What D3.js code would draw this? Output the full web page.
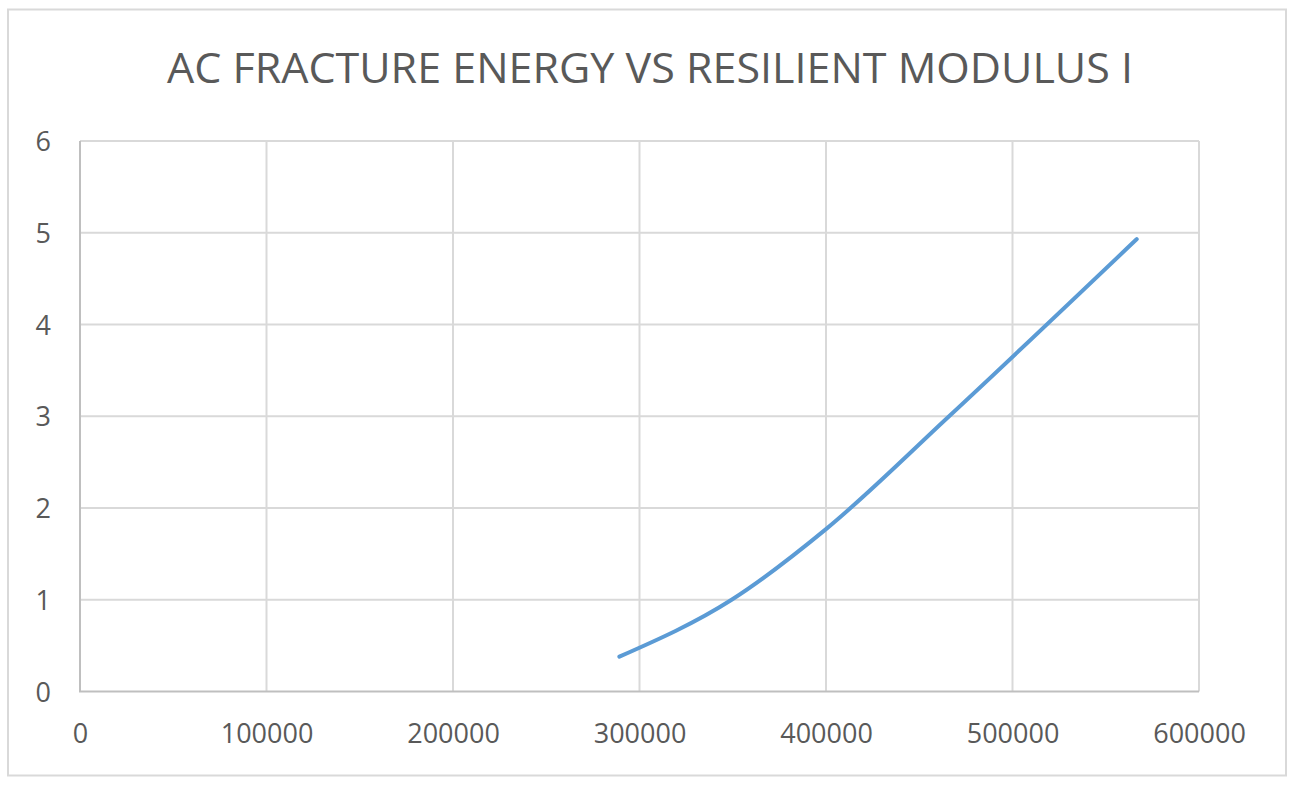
<!DOCTYPE html>
<html>
<head>
<meta charset="utf-8">
<script src="https://cdn.jsdelivr.net/npm/d3@7"></script>
<style>
  html, body { margin: 0; padding: 0; background: #fff; }
  svg { display: block; }
</style>
</head>
<body>
<svg id="chart" width="1301" height="792"></svg>
<script>
const title = "AC FRACTURE ENERGY VS RESILIENT MODULUS I";
const modulus = [289200, 349400, 400000, 466000, 566600];
const energy  = [0.38, 1.00, 1.77, 3.00, 4.93];
const xTicks = [0, 100000, 200000, 300000, 400000, 500000, 600000];
const yTicks = [0, 1, 2, 3, 4, 5, 6];

const svg = d3.select("#chart");
const W = 1301, H = 792;
const plot = { left: 80, right: 1199, top: 141, bottom: 691.5 };

svg.append("rect").attr("x", 0).attr("y", 0).attr("width", W).attr("height", H).attr("fill", "#fff");
svg.append("rect")
  .attr("x", 8).attr("y", 9.5).attr("width", 1278).attr("height", 766)
  .attr("fill", "#fff").attr("stroke", "#d9d9d9").attr("stroke-width", 2);

const x = d3.scaleLinear().domain([0, 600000]).range([plot.left, plot.right]);
const y = d3.scaleLinear().domain([0, 6]).range([plot.bottom, plot.top]);

// gridlines
const grid = svg.append("g");
grid.selectAll("line.h").data(yTicks.filter(d => d > 0)).join("line")
  .attr("x1", plot.left).attr("x2", plot.right)
  .attr("y1", d => y(d)).attr("y2", d => y(d))
  .attr("stroke", "#d9d9d9").attr("stroke-width", 2);
grid.selectAll("line.v").data(xTicks.filter(d => d > 0)).join("line")
  .attr("x1", d => x(d)).attr("x2", d => x(d))
  .attr("y1", plot.top).attr("y2", plot.bottom)
  .attr("stroke", "#d9d9d9").attr("stroke-width", 2);

// axes lines
svg.append("line").attr("x1", plot.left).attr("x2", plot.left)
  .attr("y1", plot.top).attr("y2", plot.bottom)
  .attr("stroke", "#bfbfbf").attr("stroke-width", 2);
svg.append("line").attr("x1", plot.left - 1).attr("x2", plot.right)
  .attr("y1", plot.bottom).attr("y2", plot.bottom)
  .attr("stroke", "#bfbfbf").attr("stroke-width", 2);

// tick labels
const font = "'Open Sans', 'DejaVu Sans', sans-serif";
const xAxis = d3.axisBottom(x).tickValues(xTicks).tickSize(0).tickPadding(0).tickFormat(d3.format("d"));
const gx = svg.append("g").attr("transform", `translate(0, ${plot.bottom})`).call(xAxis);
gx.select(".domain").remove();
gx.selectAll("text").attr("y", 51).attr("dy", null)
  .attr("fill", "#595959").style("font-family", font).style("font-size", "27px");

const yAxis = d3.axisLeft(y).tickValues(yTicks).tickSize(0).tickPadding(0).tickFormat(d3.format("d"));
const gy = svg.append("g").attr("transform", `translate(${plot.left}, 0)`).call(yAxis);
gy.select(".domain").remove();
gy.selectAll("text").attr("x", -29).attr("dy", "0.36em")
  .attr("fill", "#595959").style("font-family", font).style("font-size", "27px");

// line
const pts = modulus.map((m, i) => [m, energy[i]]);
svg.append("path").datum(pts)
  .attr("d", d3.line().x(d => x(d[0])).y(d => y(d[1])).curve(d3.curveMonotoneX))
  .attr("fill", "none").attr("stroke", "#5b9bd5").attr("stroke-width", 4)
  .attr("stroke-linecap", "round");

// title
svg.append("text").attr("x", 650).attr("y", 83)
  .attr("text-anchor", "middle")
  .attr("fill", "#595959")
  .style("font-family", font).style("font-size", "42px")
  .attr("textLength", 966).attr("lengthAdjust", "spacingAndGlyphs")
  .text(title);
</script>
</body>
</html>
